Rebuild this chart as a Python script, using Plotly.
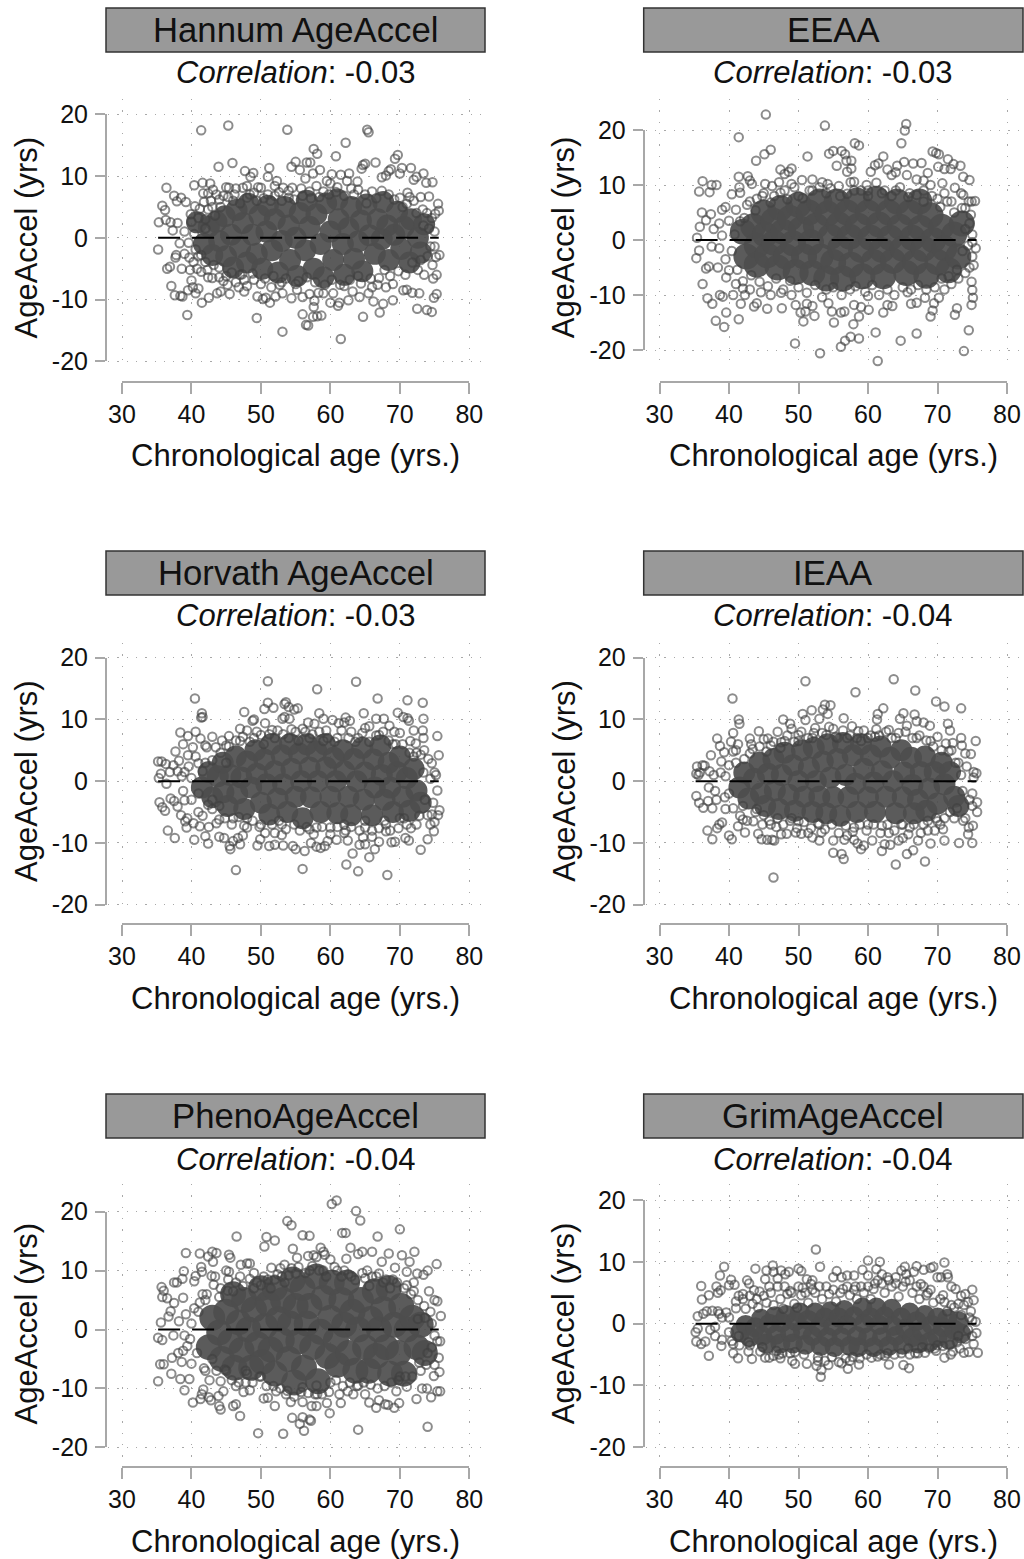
import plotly.graph_objects as go

panel_titles = ["Hannum AgeAccel", "EEAA", "Horvath AgeAccel", "IEAA", "PhenoAgeAccel", "GrimAgeAccel"]
correlations = ["-0.03", "-0.03", "-0.03", "-0.04", "-0.04", "-0.04"]
x_ticks = [30, 40, 50, 60, 70, 80]
y_ticks = [-20, -10, 0, 10, 20]
y_tick_labels = ["-20", "-10", "0", "10", "20"]
zero_x = [35.2, 75.6]
zero_y = [0, 0]

hannum_points = [(35.2,-1.9),(35.3,2.5),(35.8,5.2),(36.2,4.5),(36.3,2.9),(36.4,8.1),(36.5,-5),(36.9,-4.7),(37,2.5),(37.1,-7.8),(37.3,1.2),(37.5,6.8),(37.7,-3.2),(37.8,-2.8),(37.9,5.9),(37.6,-9.3),(38,2.4),(38.3,-0.9),(38.4,-9.4),(38.5,6.5),(38.6,-5),(38.7,-9.5),(39,-2.6),(39.2,5.8),(39.4,-12.5),(39.5,-8.5),(39.7,-3.2),(39.8,-5.2),(39.9,3.8),(40,2.6),(40,-6.9),(40.2,-8),(40.3,-3.9),(40.5,5.1),(40.6,-9),(40.6,-1.9),(40.4,8.5),(41,-8.2),(41.2,4.7),(41.4,17.4),(41.5,-10.5),(41.4,-5.5),(41.6,8.9),(41.7,7.2),(42,1.5),(42,-3.9),(42.4,4.6),(42.3,-5.2),(42.4,7.2),(42.5,-9.7),(42.7,8.8),(43,-6.5),(43.1,7.8),(43.4,3.6),(43.7,-9),(43.9,11.5),(44,-6.4),(44,6.2),(44.2,-8.7),(44.6,6.8),(45,8.2),(45.2,-7.6),(45.3,18.2),(45.4,8.1),(45.5,-9.1),(45.9,12.1),(46.4,-7.2),(46.4,8),(47.3,-5.9),(47.4,8.1),(47.7,10.8),(47.6,-8.7),(48,8.4),(48,-7.8),(48.5,9.9),(48.9,10.5),(49,7.3),(49.5,-9.5),(49.4,-13),(50,8.1),(50.3,-9.9),(50.7,-9.7),(51,9.9),(51.2,11.3),(51.3,-10.5),(51.5,-8),(52,8.4),(52.1,-9.5),(52.3,9.2),(52.7,-7.6),(53.1,-15.2),(53.2,8.1),(53.1,-9),(53.8,17.5),(54.4,11.5),(54.4,-9.8),(54.5,8.1),(55,12.3),(55.2,-8.4),(55.6,11),(56,-9.6),(56,-12.4),(56.4,9.6),(56.6,12.2),(56.5,-14.1),(56.8,-14.2),(57.1,12.2),(57,-9.1),(57.6,14.4),(57.5,-12.8),(57.5,10.4),(57.6,-11.2),(57.7,-10.2),(58.1,13.6),(58.1,-12.7),(58.3,-8.9),(58.5,11),(58.7,-12.6),(59,-9),(59.5,9.2),(60,-10.5),(60.2,10.3),(60.4,-9),(60.8,13.2),(61.1,-11),(61.3,-10.5),(61.5,10.2),(61.5,-16.4),(62.2,15.4),(62.4,9.2),(62.6,-10.1),(62.7,10.4),(63.2,-8.7),(63.9,9.1),(64.2,-9.6),(64.5,11.2),(64.7,-12.8),(64.7,11.8),(65,12),(65.3,17.5),(65.5,17.1),(65.5,-9),(66,-8),(66.2,-10.3),(66.5,12.2),(67.1,-12.1),(67.4,9.8),(67.6,-10.7),(68,10.1),(68.4,10.8),(68.7,11.1),(69,-10.1),(69.3,12.8),(69.7,13.4),(70,10.4),(70.3,11.3),(70.5,-8.5),(71,-8.4),(71.1,7.3),(71.6,11.3),(71.8,-8.9),(72,9.4),(72.4,9.9),(72.5,-11.5),(72.8,-9),(73,6.6),(73.4,10.4),(73.5,-6),(73.8,8.9),(73.9,-11.7),(74.2,6.7),(74.6,-12),(74.7,9),(74.8,-6.6),(74.9,-9.7),(74.7,-4.4),(75.1,3.9),(75.3,-9.1),(75.2,-3.1),(75.3,-6),(75.5,5.5),(75.6,4.4),(75.7,-2.8),(74.2,1.5),(74,-3),(73.3,4.6),(72.6,-5.2),(72,6),(71,5.5),(70,6.5),(69,-7.5),(68,-8),(67,-6.5),(66,7.5),(65,7),(64,-6.2),(63,8),(62,-7.8),(61,8.2),(60,8.8),(59,7.5),(58,8.4),(57,7.5),(56,6.8),(55,-7.5),(54,6.5),(53,-7.2),(52,6.8),(51,7),(50,-7.5),(49,-6.8),(48,6.5),(47,-6),(46,6),(45,-6.2),(44,-4.8),(43,5),(42,3),(41,-3)]
hannum_mid = [(39,1),(39.6,-0.8),(40.4,0.6),(40.8,-5),(41,3.2),(41.4,-2.8),(41.8,5.8),(42.4,-6.4),(42.8,6),(43.2,-4.4),(43.6,7),(44.2,5),(44.6,-7),(45.3,6.6),(45.8,-5.6),(46.2,7),(46.8,-8),(47,5.6),(47.6,-6.8),(48.4,7),(48.8,-5.8),(49.4,6),(49.6,8.2),(50.4,6.4),(50.6,-6.6),(51.4,6),(51.8,-6.2),(52.6,7.4),(53,6),(53.6,-6.6),(54,7.6),(54.8,6.2),(55.4,-7),(55.8,8),(56.6,-6.4),(57.2,6.4),(57.8,-7.2),(58.4,6.6),(59.2,-7.6),(59.8,7),(60.2,-6.8),(60.8,7.4),(61.4,-7.6),(62,6.8),(62.8,-6.8),(63.4,7),(64,7.8),(64.4,-7.4),(65.2,5.6),(65.8,-6.6),(66.6,6.4),(66.8,-7.6),(67.4,7.6),(67.8,-5.2),(68.4,7),(68.6,-6.2),(69.2,6.2),(69.8,-5.4),(70.4,5),(70.8,-6),(71.4,6.6),(71.8,-4),(72.4,4),(73,-3.6),(73.4,2),(73.9,4),(74.4,-1.4),(74.6,3.2),(75,1),(75,-1.4)]
hannum_core = [(40.8,2.5),(41.8,-1),(42.5,1.8),(43,-2.8),(43.6,2.6),(44,-0.5),(44.8,3.5),(45,-3),(45.7,0.5),(46,-4.8),(46.5,4.5),(47,-1.5),(47.4,2.4),(48,-4),(48.2,5.5),(48.8,0.5),(49.4,-2.6),(49.8,3.6),(50.2,-5),(50.8,1),(51,5.2),(51.6,-2),(52,3),(52.5,-5.6),(53,-0.5),(53.5,5),(54,2),(54.2,-3.6),(55,0),(55.2,-6.2),(55.6,4),(56.4,-2),(56.6,6),(57,1.8),(57.6,-5),(58,3.8),(58.6,-1),(59,-6.4),(59.4,5.6),(60,1),(60.4,-3.6),(61,6.2),(61.2,3),(61.8,-1),(62,-6),(62.6,1.6),(63,5),(63.4,-3.4),(64,-0.6),(64.4,2.8),(64.6,-5.4),(65.2,5.4),(65.6,0.4),(66.4,-2.6),(66.8,3),(67.4,-0.2),(67.6,5.8),(68.2,2),(68.4,-3.6),(69.2,0.5),(69.6,4.2),(70.2,-1.8),(70.6,1.8),(71.4,-4),(71.6,3),(72.6,0),(73,-2.4),(73.5,2.2)]

eeaa_points = [(45.3,22.8),(53.8,20.8),(65.5,21.1),(65.3,19.9),(41.4,18.7),(64.8,17.6),(58.1,17.6),(58.7,17.2),(46,16.4),(45.1,15.6),(43.9,14.4),(51.3,15.2),(54.4,15.7),(55,16.2),(56.2,16.2),(56.7,15.6),(56.9,14.4),(57.6,14.4),(55.5,13.5),(57.6,13),(57,12.4),(62.2,15.2),(61,13.6),(61.5,13.9),(65.2,14.2),(66.5,13.9),(67.7,14),(69.3,16.1),(69.8,15.8),(70.2,15.6),(71.5,14.7),(72.3,13.8),(73.3,13.5),(70.1,13.3),(71,12.9),(71.9,12.9),(73.7,11.5),(74.6,10.9),(70.7,10.3),(68.6,12.2),(36.2,10.7),(35.7,8.8),(37.2,8.7),(37.5,10),(38.2,10),(36.1,5),(37.4,4.7),(36.7,3.6),(35.8,2.4),(35.4,0.4),(35.3,-3.3),(35.7,-1.9),(36.7,-5.2),(37.1,-4.8),(36.2,-8),(36.9,-10.6),(37.6,-11.6),(38.1,-14.7),(39.3,-15.8),(39.6,-13.2),(41.4,-14.4),(41.7,-11.6),(38.7,-10),(39.1,-10.3),(40.6,-10),(42.3,-10),(44,-11.5),(43.6,-12.1),(45.5,-12.5),(47.6,-12.4),(49.6,-11.8),(49.5,-18.8),(50.7,-14.8),(50.3,-13.2),(51.2,-11.6),(52.3,-13.8),(53.1,-20.6),(55.1,-15),(56.1,-19.4),(56.7,-18.3),(57.5,-17.6),(58.7,-17.9),(57.9,-15.3),(58.7,-13.9),(60.1,-12.7),(61.1,-16.8),(61.4,-22),(64.7,-18.3),(67,-17),(69,-13.9),(72.5,-13.6),(72.8,-12.4),(74.5,-16.4),(73.8,-20.2),(74.9,-11.8),(75.1,-10.5),(74.9,-7.6),(75,-9.1),(75.5,-1.5),(75.4,7.1),(74.9,7),(41.4,11.5),(41.5,9.6),(41.6,8.6),(40.4,8.3),(42.7,11.6),(43,10.8),(43.3,10.2),(45.2,10.2),(46.2,9.8),(47.2,10.5),(47.4,12.8),(48,12),(48.6,12.4),(49,13),(49,10.2),(50.5,10.9),(52,11),(53.4,10.5),(54.2,10.2),(57.5,10.5),(59.8,10),(60.4,12.4),(62.8,12.8),(63.4,11.8),(64,12.3),(64.2,13.5),(65.6,11.8),(67,11),(68,10.8),(69,10),(71,8.5),(72.5,9.5),(73.4,8.5),(73.7,8.2),(74.5,7),(73.5,5.8),(74,5.8),(74.6,3),(75,1),(75,-3),(74.6,-5),(74,-6),(72,-8),(71,-9),(70.2,-10.5),(69.5,-11.5),(69.3,-12.8),(68.2,-10.5),(67,-11.4),(66.2,-11.6),(65.7,-9.5),(63.5,-12),(62.8,-11.8),(62.2,-13.2),(60,-10.2),(59,-12.2),(58,-11.8),(56.6,-13),(56.1,-13.2),(54.8,-13),(54.3,-11.5),(52,-12),(51,-13),(49,-10),(47.5,-9.6),(46,-10),(44.6,-9.5),(43,-9),(42,-7.5),(41,-8),(40,-5.5),(39.5,-3.5),(38.6,-1.5),(37.5,-1.2),(37.8,2),(38.6,3),(39,5.5),(39.5,6),(40,3.5),(41,5.5),(42.2,4),(43,7),(44,7.5),(45,8.5),(46.5,8),(48,9),(50,8),(52,9),(54,8.5),(56,8),(58,9),(60,9),(62,8.5),(64,9),(66,8.5),(68,9),(70,7.5),(72,7)]
eeaa_mid = [(38.4,-5),(39,0.8),(39.6,-6.8),(40.4,-2),(40.8,1),(41.2,-5.4),(41.6,3.4),(42,-8.8),(42.6,6.4),(43.2,-6.4),(43.8,5.4),(44.4,-7.6),(44.8,8),(45.6,-8.4),(46,6.8),(46.8,-7),(47.4,8.6),(47.8,-9),(48.4,7.4),(48.8,-7.4),(49.4,9.6),(50,-8.6),(50.6,7.6),(51.2,-9.6),(51.6,9),(52.4,-8.2),(53,9.6),(53.4,-10.4),(54,-9),(54.6,9.4),(55,-8.6),(55.8,9.8),(56.2,-10),(57,8.4),(57.4,-9),(58,10.6),(58.2,-8.4),(59,9),(59.6,-9.4),(60,8),(60.6,-8.2),(61.2,10.4),(61.6,-10),(62.4,9),(62.8,-9),(63.4,8),(63.8,-10),(64.6,9.6),(65,-8.6),(65.8,7.8),(66.2,-9),(67,8.2),(67.2,-8.2),(68,7),(68.4,-9),(69.2,8),(69.6,-8.6),(70.4,6),(70.6,-7),(71.4,7),(71.6,-6.6),(72.4,5),(72.8,-5.4),(73,-7),(73.6,-2),(74,2),(74.4,-1),(74.8,4.6),(75.2,-4.6),(75,-0.4)]
eeaa_core = [(42,1.5),(42.5,-3),(43.5,2.5),(44,-1),(44,-4.5),(45,5),(45.2,1),(45.5,-2.8),(46.4,3.5),(46.5,-0.5),(47,-5),(47.4,5.8),(47.8,1.5),(48.2,-3),(48.8,4),(49.2,-0.6),(49.6,-5.8),(50,6.4),(50.4,2),(50.8,-3),(51.5,5),(51.8,-0.4),(52,-6),(52.5,2.6),(53,7),(53.2,-3),(54,-7),(54.2,4.8),(54.6,0.6),(55,-4),(55.5,7),(55.8,2.8),(56,-1.5),(56.4,-7),(57,5),(57.4,0.6),(57.6,-4.5),(58.4,7.2),(58.6,2.6),(59,-1.8),(59.2,-6.6),(60,5),(60.4,0.4),(60.8,-4),(61.2,7.5),(61.6,2.8),(62,-1.8),(62.2,-6.6),(63,5),(63.2,0.4),(63.6,-3.8),(64.2,7),(64.6,2.4),(65,-1.6),(65.5,-6),(66,5),(66.4,0.4),(66.8,-4),(67.4,7),(67.6,2.2),(68,-1.6),(68.4,-6.5),(69,4.5),(69.4,0),(70,-4),(70.6,2.4),(71,-1.5),(71.6,-5.5),(72.4,1),(73,-3),(73.5,3)]

horvath_points = [(35.2,3.2),(35.7,3.2),(35.3,0.5),(35.6,1.2),(35.4,-3.4),(35.8,-4.2),(36.2,-4.8),(36.3,2.8),(36.4,-0.4),(36.6,-8),(36.9,1.5),(37,-2.8),(37.4,2.6),(37.5,-3.2),(37.7,4.8),(37.6,-9.2),(38,-4.1),(38.2,3.3),(38.4,7.9),(38.5,-5.5),(38.6,0.8),(38.8,6),(39,-3.1),(39.1,-6.5),(39.4,-6),(39.5,7.3),(39.3,-7.5),(39.5,4.2),(40.2,5.5),(40.3,-6.8),(40.4,-9.5),(40.5,13.4),(40.6,8),(41,2.9),(41.2,-7.3),(41.3,6.9),(41.4,10.3),(41.5,11),(41.6,10.4),(41.6,-5.6),(42,-8.9),(42.2,5.5),(42.4,-10.1),(42.5,-7.4),(43,7.2),(43,-4.5),(43.5,5.5),(44,-6.2),(44,-9),(44.4,6.6),(44.7,-9.2),(45,3),(45.4,7.3),(45.5,-10.5),(45.6,-11),(46,-9.7),(46.4,-14.4),(46.7,-9.2),(47,-10.2),(47,8.5),(47.4,-8.8),(47.6,11.2),(48,8.2),(48,-7.5),(48.8,9.8),(49,10),(49.5,-10.4),(49.9,-9.4),(50.5,11.7),(50.6,9.4),(51,16.2),(51,12.7),(51.2,-10.5),(51.6,8.3),(51.8,11.9),(52,-10.3),(52,-8.4),(53,-8.7),(53.1,10.1),(53.2,-10.4),(53.4,10.4),(53.4,12.5),(53.6,12.8),(54,12),(54.1,10.1),(54.6,-10.5),(54.8,11.6),(55,-11),(55.3,11.8),(56,8.5),(56,-14.2),(56.3,-11.3),(56.8,9.5),(57,-7.8),(57.7,9.3),(57.2,-10),(58,-10.6),(58.1,14.9),(58.4,11),(58.6,-10.8),(59,10.1),(59.2,-10.5),(59.4,8.2),(59.6,-9.7),(60.3,9.9),(60.9,-9.5),(61.2,9.4),(62,9.5),(62.2,10.3),(62.2,-8),(62.3,-13.5),(62.5,-9.6),(62.8,9.8),(63.2,-11.7),(63.7,16.1),(64,-14.6),(64.2,-10.3),(64.7,-9.1),(64.8,11),(65,-10.2),(65,8.6),(65.6,-12.3),(65.6,8.9),(66.4,-11),(66.6,10.1),(66.8,13.4),(67,-9.8),(67.7,10.1),(68,-8.1),(68.2,-15.2),(68.5,9),(68.8,-9.9),(69.2,8),(69.3,-9.8),(69.7,11.1),(70,7.8),(70.5,10.4),(70.8,-9.2),(71.1,13.1),(71.1,10.2),(71.3,9.8),(71.3,-9.6),(71.5,6.5),(72,8.2),(72.3,6.1),(73,-11.1),(73.3,8.2),(73.3,12.7),(73.4,10.1),(73.4,7),(73.5,5),(74,-9.4),(74.1,3.6),(74.4,-7),(74.6,2.9),(74.9,-8.1),(75.2,1),(75.4,-1.5),(75.4,7.3),(75.5,-5.5),(75.6,4.2),(75.7,-4.7),(74.8,-3.5),(74,-5.5),(73,4.3),(72.4,-7),(72,4),(71,-7),(70,-6),(69,6),(68,-7),(67,7.5),(66,-8),(65,-7.5),(64,7),(63,8),(62,-7),(61,7),(60,-7.5),(59,6.5),(58,-7.5),(57,7),(55,8),(54,7),(53,-7),(52,7),(50,7.5),(50,-7),(49,7),(48,-6),(47,6.5),(46,-6),(45,5.8),(44,-4),(43,-3),(42,3),(41,-2),(40,0.5),(39,1.5)]
horvath_mid = [(38,1.6),(38.8,-1.6),(39.6,2.4),(40,-3),(40.6,4),(41,-5),(41.6,1.6),(42,5.8),(42.4,-3.8),(43,3.4),(43.6,-6.8),(44.2,4.6),(44.8,-6),(45.4,5.6),(45.8,-7),(46.4,6.6),(46.8,-5.8),(47.4,7.2),(47.6,-7.2),(48.4,6.4),(48.8,-6.4),(49.4,8),(49.8,-7.4),(50.4,6),(50.6,-8.4),(51.2,7.6),(51.6,-7),(52.4,8.2),(52.6,-6.4),(53.2,7.6),(53.6,-7.8),(54.4,8.4),(54.8,-7),(55.4,6.6),(55.6,-8),(56.4,8),(56.6,-7.4),(57.4,7.6),(57.6,-8.6),(58.4,8),(58.8,-7.4),(59.6,7),(60,-8.6),(60.6,6.4),(61,-7.4),(61.6,8.2),(62,-8.4),(62.6,7),(63,-7.4),(63.6,6.4),(64.2,-8),(64.6,7.8),(65,-6.4),(65.6,6.4),(66,-9),(66.6,7.4),(67,-7.6),(67.6,8),(67.8,-6.4),(68.4,6.6),(68.6,-8),(69.4,6),(69.8,-7.6),(70.4,6),(70.6,-6),(71.4,4.6),(71.6,-7.6),(72.4,4.6),(72.8,-5.6),(73.4,1.4),(73.6,-3),(74.4,0.4),(74.6,-5.4),(75,-6.6),(75,1.4)]
horvath_core = [(41.5,-1),(42.5,1.5),(43,-2.6),(43.8,0.8),(44.5,3),(44.6,-1.8),(45.2,-4),(45.6,1),(46.4,4),(46.6,-2),(47.2,0.6),(47.6,-4.5),(48,3.2),(48.6,-1),(49.2,5),(49.4,1.2),(50,-3.5),(50.5,3.5),(50.8,-0.5),(51.2,-5.4),(51.5,6),(52,1.6),(52.4,-2.8),(53,4.2),(53.2,-0.5),(53.8,-5),(54.2,6),(54.4,2),(55,-2.5),(55.5,4.5),(55.8,0),(56,-6),(56.6,6),(57,2.2),(57.2,-2.6),(58,4.8),(58.2,0),(58.6,-5),(59.2,6),(59.4,2.2),(60,-2.5),(60.5,3.8),(60.8,0),(61,-5.2),(61.8,5),(62,1.6),(62.6,-2.5),(63,-5.5),(63.4,3.6),(63.8,0),(64.6,5.4),(64.8,-3),(65,1.4),(66,-5.5),(66.2,3.5),(66.4,-1),(67.2,5.8),(67.4,1),(67.8,-3),(68.4,3),(68.6,-1),(69,-5),(69.6,1.5),(70,4),(70.4,-2.5),(71,0.5),(71.4,-4.8),(72,2),(72.4,-1.5),(73,-3.5)]

ieaa_points = [(35.4,2.4),(35.3,1.2),(35.6,1),(35.8,1.4),(35.3,-2.4),(35.7,-3.5),(36.3,-4.3),(36.2,2.6),(36.5,2.5),(36.9,-8),(37,-3.2),(37.4,4.2),(37.2,1.6),(37.1,-1),(37.6,-9.4),(37.8,1),(37.6,-4.4),(38.2,-3),(38.3,6.9),(38.3,-7.6),(38.7,5.7),(38.6,-7),(38.9,3.2),(39,-6.7),(39.3,4.7),(39.5,-4.5),(40,-8.8),(40.4,-9.4),(40.3,6.4),(40.5,13.4),(40.6,7.8),(40.6,4.8),(41.4,10),(41.5,9.3),(41.3,6),(41.3,-7.3),(42,-6.2),(42.3,-8.3),(43,6.9),(43.2,6),(43.5,-6.5),(44.2,-8.5),(44.3,8.1),(44.7,-9.4),(45,6.8),(45.5,-9.5),(45.6,6.9),(46,-7),(46.2,-9.5),(46.4,-15.6),(46.5,-9.6),(47,8),(47.5,6.3),(47.5,-8.6),(47.8,10),(48.3,-8.5),(48.8,9.3),(49,8.5),(49.6,-8.3),(50,7.5),(50.4,-8.5),(50.6,10.9),(51,16.2),(51,9.9),(51.4,-8.4),(51.9,11.5),(52,-9.1),(52.2,7.8),(53,10.1),(53,-9.6),(53.3,-8.3),(53.5,11.6),(53.8,12.4),(54.2,10.9),(54.6,12.3),(55,-9.6),(55,-11.6),(55.6,7),(56.2,-11.8),(56.5,-12.6),(56.5,10.2),(56.6,-9.5),(57,-8.8),(57.7,8.9),(58,-9.5),(58.2,14.4),(58.5,-10.1),(58.6,8.1),(59,-11),(59.4,-10.4),(60,7),(60.6,-9.6),(61.2,8.4),(61.3,10),(61.4,10.9),(62,-11.3),(62.2,11.8),(62.4,-10.2),(63,-8.4),(63.2,-10.3),(63.7,16.5),(64,-13.5),(64.4,-9.6),(64.6,10.1),(65,-9.2),(65.1,11),(65.6,-11.8),(65.6,9),(66.5,-11.2),(66.7,10.8),(66.8,14.7),(67,9.7),(67.2,-9.6),(68,9.5),(68.2,-13),(68.6,-8),(68.9,9),(69,-10.1),(69.6,-8),(70,7.2),(69.8,12.9),(70.4,-7),(71,12.1),(71,-9.6),(71.2,6.1),(71.5,9.3),(71.8,8.2),(72.2,6.2),(73.1,-10),(73.4,7),(73.4,11.8),(73.5,5.8),(73.7,-6.4),(74,4.5),(74.5,-7.5),(74.4,-8.6),(74.8,4.4),(75,-10),(75.1,-7.2),(75.2,1.5),(75.5,6.5),(75.6,1.3),(75.7,-3.4),(75.7,-5),(75,-2),(74,-6),(73,3),(72.4,-6),(72,5),(71,-6),(70,-6.5),(69,6.5),(68,-7),(67,7),(66,-7.5),(65,-7),(64,7),(63,8.3),(62,-7.2),(61,7.2),(60,-7),(59,6.5),(58,-7.5),(57,7),(55,8.5),(54,7.5),(53,-7),(52,7),(50,6.5),(50,-6.5),(49,-6),(48,6.5),(47,-6),(46,5.8),(45,-5.5),(44,-4.5),(43,4.5),(42,-4),(41,3),(40,-2),(39.5,0.8)]
ieaa_mid = [(38,-1.6),(38.8,1.4),(39.4,-2.6),(40,2.6),(40.6,-4.4),(41,5),(41.6,-5.6),(42.2,3.6),(42.6,-6.4),(43.4,5.2),(43.8,-5),(44.4,5.6),(44.8,-7),(45.4,4.8),(45.8,-6.4),(46.4,6.4),(46.8,-7.4),(47.4,5.4),(47.8,-7),(48.4,7.4),(48.8,-6.4),(49.4,6.4),(49.8,-7.6),(50.4,8),(50.8,-6.6),(51.4,7),(51.8,-7.6),(52.4,8.6),(52.8,-6.8),(53.4,7.8),(53.8,-7.8),(54.4,8.8),(54.8,-7),(55.4,7.2),(55.8,-8.4),(56.4,8.2),(56.8,-7.2),(57.4,7.4),(57.8,-8.2),(58.4,7),(58.8,-7),(59.4,8.2),(59.8,-8),(60.4,7.4),(60.8,-7),(61.6,7.4),(61.8,-8.4),(62.6,8),(62.8,-7),(63.4,7),(63.8,-8),(64.4,7.8),(64.8,-7),(65.4,8),(65.8,-8.6),(66.4,7),(66.6,-7),(67.4,7.4),(67.6,-8.4),(68.4,6.6),(68.6,-6.4),(69.4,5.6),(69.8,-6),(70.6,5),(70.8,-7.8),(71.6,4.8),(71.8,-5),(72.6,3),(72.8,-4.4),(73.4,1),(73.6,-1.6),(74.2,2.4),(74.6,-3),(75,-4),(75.2,0.6)]
ieaa_core = [(41.5,-1),(42.2,1.4),(42.8,-2.8),(43.6,0.4),(44.4,3),(44.6,-2),(45.2,-4),(45.6,1.2),(46.4,3.6),(46.6,-1.5),(47.2,-4.5),(47.6,1),(48,4.6),(48.6,-2.2),(49.2,2.6),(49.5,-4.8),(50,0),(50.5,5),(50.8,-2.5),(51.5,2.2),(52,-5),(52.2,5.4),(52.5,0),(53,-2.5),(53.5,3.2),(54,-5.2),(54.2,6),(54.6,0.6),(55,-2.6),(55.6,3.6),(56,-5.6),(56.4,6.2),(56.8,1),(57.2,-2.6),(57.8,4.2),(58.2,-0.4),(58.4,-5),(59,6),(59.4,2),(60,-2.6),(60.4,4.2),(60.8,-0.2),(61,-5),(61.8,5.6),(62,1.6),(62.6,-2.5),(63.2,3.8),(63.6,0),(64,-5.2),(64.8,5),(65,-2.6),(65.2,1.4),(66.2,3.8),(66.4,-0.6),(66.6,-5.2),(67.2,-3),(67.6,1.5),(68.2,4),(68.4,-4.8),(68.8,-1.2),(69.6,1.5),(70,-3.6),(70.6,3),(71,-0.5),(71.8,1.5),(72.4,-2.5),(73,-4)]

pheno_points = [(35.2,-1.4),(35.6,1.2),(35.2,-8.8),(35.5,-5.9),(35.7,7.2),(35.8,5.5),(35.8,-1.8),(36,-5.9),(36,6.6),(36.5,5.3),(36.7,2.2),(37.1,-7.5),(37,3.1),(37.2,-4.8),(37.4,-1),(37.5,4.5),(37.5,8),(37.9,8),(38.1,-4),(38.4,-8.4),(38.6,-5.5),(38.7,8.6),(38.8,5.4),(38.9,9.9),(39,-10.3),(39.2,13),(39.4,-2.8),(39.7,-8.4),(40,-5.8),(40.2,-12.4),(40.4,8.2),(40.6,9.1),(41.2,12.9),(41.3,-11.8),(41.4,10.6),(41.5,9.8),(41.5,-11),(41.7,-10.2),(41.6,6),(42,-7),(42.4,12.4),(42.5,-11.5),(42.8,-12),(42.9,9.1),(43,13.2),(43.1,11.5),(43.4,9),(43.6,13),(43.9,-11.3),(44,-13),(44.2,-13.6),(44.2,-8.8),(44.6,-10.5),(45,10),(45.4,9.8),(45.3,8.5),(45.4,12.7),(45.6,12.2),(46,-13),(46.4,-12.7),(46.4,-9.6),(46.5,15.8),(47,-14.7),(47.1,11),(47.5,-10.6),(47.8,-9),(48,11.2),(48.4,11.2),(48.4,-10.3),(49,9.6),(49.6,-17.6),(50,-8),(50.4,-11.7),(50.5,14.1),(50.8,15.7),(51,-11.6),(51.5,10.5),(52,-13),(52,15.1),(52.2,-10.5),(52.8,10.4),(53.2,-17.7),(53.4,11),(53.6,-11),(53.8,18.4),(54.3,-12.3),(54.4,17.7),(54.5,-15),(54.6,13.7),(55.2,12.2),(55.6,-16),(56,-12.3),(56,-14.9),(56,16),(56.2,-17.2),(56.8,12.5),(57,15.9),(57,-15.3),(57.2,-15.5),(57.3,-13),(58,-13),(57.6,12.6),(58,12.3),(58.1,-11),(58.6,13.9),(59,13.2),(59.2,12.7),(59.5,-12.5),(59.9,-14.2),(60.2,21.3),(60,11.9),(60.9,21.9),(61.3,-11),(61.5,-12.5),(61.7,16.4),(62.2,16.4),(62.3,12),(62.5,-10.5),(62.9,13.9),(63.3,-11),(63.7,20.1),(64,-17),(64,12.8),(64.3,18.5),(64.6,13.2),(65,-11),(65.3,10),(65.6,-12.4),(66,13.2),(66.6,-13.3),(66.8,15.8),(67,-12),(67.4,11.5),(67.9,-12.7),(68.3,-12.8),(68.4,12.9),(69.2,-13.3),(69.3,10.5),(69.5,-10.5),(69.9,-12.5),(70,17),(70.3,12.6),(71,9.8),(71,-9.7),(71.4,11.5),(72,6.5),(72.1,13.2),(72.4,-11.8),(72.5,9.5),(73.2,-10),(73.4,9.3),(73.9,-10),(74,-16.5),(74,10),(74.2,6.5),(74.5,-11.5),(74.9,-7.9),(75,5),(75.4,4.8),(75.3,11.1),(75.4,-10.5),(75.6,-4.8),(75.7,-7.2),(75.8,-10.5),(75.9,2.3),(75.8,-2),(75.4,-2),(74.6,1),(74,-4),(73.5,4),(73,-7),(72.6,1.8),(72,8),(71,7.5),(70,-8),(69,8.5),(68,8.5),(67,9.5),(66,9),(65,8.7),(64,-9.5),(63,9),(62,10),(61,10),(60,-9),(59,10),(58,-9.5),(57,10),(56,-9.8),(55,9.5),(54,9.2),(53,9),(52,8.5),(51,8.5),(50,7.5),(49,7),(48,-7.5),(47,9),(46,6.5),(45,-7),(44,5.5),(43,-5),(42,5),(41,3),(40,1),(39,-1)]
pheno_mid = [(38.2,1.4),(38.8,-3.6),(39.2,2.6),(39.8,-1.6),(40.4,3.6),(40.8,-4),(41.2,4.6),(41.8,-6.6),(42.2,6),(42.6,-8.6),(43.2,7.6),(43.6,-7),(44.2,7),(44.8,-6.8),(45.2,6.6),(45.8,-8.6),(46.4,8),(46.8,-9),(47.4,7.4),(47.8,-7),(48.4,8.6),(48.8,-9),(49.4,8),(49.8,-8),(50.4,9),(50.8,-9.6),(51.4,7),(51.8,-9.6),(52.4,9.4),(52.8,-10),(53.4,8),(53.8,-10.4),(54.4,10.4),(54.8,-11.4),(55.4,10.6),(55.8,-10.6),(56.4,9.6),(56.8,-10.8),(57.4,10.8),(57.8,-11),(58.4,10),(58.8,-11),(59.4,9),(59.8,-10.6),(60.6,10.6),(60.8,-8.6),(61.6,9),(61.8,-9.6),(62.6,9.4),(62.8,-9),(63.6,8.4),(63.8,-9.6),(64.6,9.6),(64.8,-9),(65.6,7.4),(65.8,-9.4),(66.6,9),(66.8,-10),(67.6,8),(67.8,-9.6),(68.6,7),(68.8,-9),(69.6,8),(69.8,-8.6),(70.6,7),(70.8,-8),(71.6,6),(71.8,-8),(72.6,5),(72.8,-5.6),(73.6,2),(73.8,-6),(74.4,3),(74.6,-3),(75,-1),(75,-6)]
pheno_core = [(42.5,-3),(43,2),(44,-0.5),(44.4,-5),(45,3),(45.6,-2),(46,6),(46.2,-6.5),(46.8,1.2),(47.2,-3.5),(47.6,5),(48.2,0),(48.6,-6.5),(49,3.4),(49.5,-2.5),(50,7),(50.2,-5.5),(50.6,0.6),(51,4.4),(51.4,-3.4),(52,7),(52,-7.5),(52.5,1.8),(53,-1.8),(53.2,5),(54,-5),(54.2,1),(54.6,8.5),(54.8,-9),(55,4),(55.4,-2),(56,7),(56.2,-6.5),(56.6,1),(57,4),(57.4,-3),(58,9),(58.2,-8.8),(58.6,-0.4),(59,5.4),(59.6,-4.5),(60,2),(60.2,8),(60.8,-1.8),(61,-6),(61.6,5),(62,0.8),(62.4,8),(62.6,-4),(63.2,3),(63.6,-7),(64,0),(64.4,5),(65,-3),(65.5,-7),(65.8,1.8),(66.4,6.5),(66.6,-4.5),(67,0),(67.6,3.5),(68,-3),(68.4,7),(68.6,-7.5),(69.2,0.8),(69.8,-4),(70.2,4),(70.6,-7.5),(71,0),(71.8,2),(72.4,-3),(73,0.8),(73.6,-4)]

grim_points = [(35.2,-1.4),(35.5,-0.8),(35.3,-2.9),(35.5,1.2),(36,6.1),(36,-3.3),(36.1,3.9),(36.3,1.6),(36.6,-2.9),(36.8,2),(37.1,-5.2),(37.1,4.6),(37.3,-1),(37.6,2.1),(38,-2),(38.2,6),(38.4,5),(38.4,2),(38.7,7.8),(38.8,5.4),(38.9,-3.6),(39.3,9.2),(40,6.2),(40.3,7.1),(40.6,-3.3),(40.6,-4.8),(40.8,6.3),(41.3,-5.6),(41.4,4.5),(42.6,7),(42.9,6.5),(42.8,-4.5),(43.3,-5.7),(43.8,8.9),(44.4,5.2),(45.2,7.2),(45.2,-5.5),(45.4,8.6),(45.8,-5.5),(46.3,9.4),(46.4,8.4),(46.4,-5.2),(47,7.3),(47.2,-5),(47.5,8.6),(47.4,-5.6),(47.7,-4.8),(48.1,8),(48.6,8.4),(48.8,5.3),(49.1,-6),(49.5,-6.5),(49.5,-4.6),(50,8.9),(50.4,8.5),(50.6,5.8),(51.2,7.2),(51.2,-6.5),(52,7),(52.5,12),(52.6,-6.8),(52.8,-5.4),(53.1,9.2),(53.2,-8.6),(53.3,-7.5),(54.3,-6.7),(55,7.5),(55.5,8.5),(56.2,7.5),(56.2,-6.4),(57,7.8),(57.1,-7.3),(57.4,-6),(58,7.8),(58.2,6),(58.7,-6.6),(59.2,8.7),(60,10.2),(60,7.8),(60.5,-5.5),(61.2,8.8),(61.4,-5.3),(61.7,10),(62,8),(62.4,-5.2),(62.8,7.5),(63,-6.6),(64,6.5),(64.8,8.6),(65.1,-6.7),(65.3,9.2),(65.5,8),(65.9,-7.2),(66,-5),(66.6,8.4),(67,9.3),(67.2,-4.8),(67.6,6.4),(68,8.7),(68.2,-4.7),(68.6,5),(69,9),(69.4,9.2),(69.6,-4),(70,7.5),(70.5,7.5),(70.8,4.6),(71,-5.5),(71,9.9),(71.4,8),(71.5,7.5),(71.9,-5),(72,6),(72.2,-4.5),(72.6,5.6),(73,3.2),(73.2,-4),(73.4,4.5),(73.8,-4.7),(74,4.8),(74.4,3.5),(74.5,-4.6),(74.8,2),(75,5.5),(75.2,3.8),(75.2,-3.3),(75.5,0.3),(75.8,-4.7),(75.6,-1.5),(75,0.5),(74,-2.5),(73,-2),(72,3),(71,3.5),(70,-3.5),(69,5.5),(68,6),(67,6),(66,7),(65,6),(64,7.5),(63,7),(62,6.5),(61,6.5),(60,6),(59,6),(58,5.5),(57,6),(56,5),(55,5.5),(54,6),(53,6),(52,5.5),(51,5),(50,6),(49,5),(48,6),(47,6),(46,5),(45,4.5),(44,4),(43,4.5),(42,4),(41,2.5),(40,1),(39,1),(38,-0.5),(41.5,-3.5),(43,-3.5),(44.5,-4.5)]
grim_mid = [(38.6,1.6),(39,-2.6),(39.6,1.8),(40,-1.4),(40.4,-2.8),(41,3.6),(41.4,-2),(42,4.8),(42.4,2.4),(42.8,-3),(43.4,3.2),(43.6,5.4),(44.2,2.6),(44.8,-3.8),(45.4,3.4),(45.8,6),(46.4,3),(46.8,-4.4),(47.4,4),(47.8,2.4),(48.4,4.8),(48.8,-4.8),(49.4,3.2),(49.8,2.6),(50.4,4.6),(50.8,-5),(51.4,3.4),(51.8,6.4),(52.4,5),(52.8,-6),(53.4,4),(53.8,-6),(54.4,4.8),(54.8,-5.4),(55.4,3.6),(55.8,-6.2),(56.4,5.6),(56.8,-5.6),(57.4,4.6),(57.8,-5.4),(58.4,4),(58.8,-5.6),(59.4,5),(59.8,-5),(60.4,4),(60.8,5.6),(61.4,7),(61.8,-5),(62.4,5),(62.8,-4.8),(63.4,6),(63.8,-5),(64.4,4.4),(64.8,-4.8),(65.4,6.8),(65.8,-4),(66.4,5),(66.8,-4.8),(67.4,4),(67.8,-3.8),(68.4,4.6),(68.8,-4),(69.4,3.4),(69.8,-4.4),(70.4,4),(70.8,-3.6),(71.4,2),(71.8,-3.4),(72.4,2.6),(72.8,-3),(73.4,1.4),(73.8,3),(74.4,-1),(74.6,1),(75,-2)]
grim_core = [(41.6,-1.4),(42.4,-0.2),(43,-2.2),(43.8,-0.6),(44.6,0.8),(44.8,-2),(45.4,-3.2),(45.8,0),(46.6,1.2),(46.8,-1.8),(47.4,-3.2),(47.6,0.2),(48.2,1.4),(48.8,-1.4),(49.2,-3.2),(49.6,0.4),(50.2,1.8),(50.6,-1),(51,-3.4),(51.4,0.6),(52,-2),(52.4,1.8),(53,-0.6),(53.2,-3.6),(53.8,1),(54.2,-2.2),(54.6,2),(55,-0.4),(55.2,-3.8),(55.8,1),(56.2,-2.2),(56.6,2.2),(57,-0.2),(57.4,-3.6),(58,1.2),(58.4,-2),(58.6,-3.8),(59.2,2.6),(59.4,0),(60,-2.2),(60.4,1),(60.8,-3.8),(61.2,2.6),(61.6,-0.2),(62,-2.2),(62.4,1.2),(63,-3.6),(63.4,2.4),(63.6,-0.4),(64,-2),(64.8,1),(65,-3.4),(65.4,-0.8),(66,1.8),(66.4,-2.2),(67,0.4),(67.2,-3.2),(67.8,-1.2),(68.2,1.4),(68.8,-3),(69.2,-0.2),(70,1),(70,-2.2),(70.8,-0.6),(71.4,0.8),(71.6,-2.6),(72.4,-1),(73.4,-1.6),(73,0.4)]

point_sets = [hannum_points, eeaa_points, horvath_points, ieaa_points, pheno_points, grim_points]
mid_sets = [hannum_mid, eeaa_mid, horvath_mid, ieaa_mid, pheno_mid, grim_mid]
core_sets = [hannum_core, eeaa_core, horvath_core, ieaa_core, pheno_core, grim_core]

W, H = 1024, 1559
COLS = [(106, 485, 122, 469.3), (643.7, 1023, 659.5, 1007)]
ROWS = [
    dict(s0=8, s1=52, sub=73, top=99, bot=370, line=381.7, xt=455),
    dict(s0=551, s1=595, sub=616, top=643, bot=913, line=924, xt=998),
    dict(s0=1094, s1=1138, sub=1159, top=1184, bot=1457, line=1467, xt=1541),
]
Y_PX = [(114.3, 361.3), (130, 350), (657.7, 904.7), (657.7, 904.7), (1211.7, 1447.3), (1200, 1447.3)]
CORE_SIZE = [11, 13, 11, 11, 13, 10]
FONT = "Liberation Sans"
INK = "#111111"
AXIS = "#a8a8a8"

fig = go.Figure()
layout = dict(
    width=W, height=H, margin=dict(l=0, r=0, t=0, b=0, pad=0, autoexpand=False),
    paper_bgcolor="white", plot_bgcolor="rgba(0,0,0,0)", showlegend=False,
    font=dict(family=FONT, color=INK),
)
shapes, annots = [], []

for i, name in enumerate(panel_titles):
    row, col = ROWS[i // 2], COLS[i % 2]
    left, right, x30, x80 = col
    y20, ym20 = Y_PX[i]
    gx, gy = f"x{i+1}", f"y{i+1}"
    dx, dy = f"x{i+7}", f"y{i+7}"
    ux, uy = (x80 - x30) / 50, (ym20 - y20) / 40
    grid_left = left + 2
    xr = [30 + (grid_left - x30) / ux, 30 + (right - x30) / ux]
    yr = [20 - (row["bot"] - y20) / uy, 20 - (row["top"] - y20) / uy]
    layout[f"xaxis{i+1}"] = dict(domain=[grid_left / W, right / W], range=xr, anchor=gy, tickvals=x_ticks,
        showgrid=True, gridcolor="#a8a8a8", gridwidth=1.3, griddash="1.3px,10px", showticklabels=False,
        ticks="", zeroline=False, showline=False)
    layout[f"yaxis{i+1}"] = dict(domain=[1 - row["bot"] / H, 1 - row["top"] / H], range=yr, anchor=gx, tickvals=y_ticks,
        showgrid=True, gridcolor="#a8a8a8", gridwidth=1.3, griddash="1.3px,8px", showticklabels=False,
        ticks="", zeroline=False, showline=False)
    layout[f"xaxis{i+7}"] = dict(domain=[x30 / W, x80 / W], range=[30, 80], anchor="free", position=1 - row["line"] / H,
        tickvals=x_ticks, showgrid=False, zeroline=False, showline=True, linecolor=AXIS, linewidth=2,
        ticks="outside", ticklen=11, tickwidth=2, tickcolor=AXIS, tickfont=dict(size=25, family=FONT, color=INK),
        ticklabelstandoff=-1)
    layout[f"yaxis{i+7}"] = dict(domain=[1 - ym20 / H, 1 - y20 / H], range=[-20, 20], anchor="free", position=left / W,
        tickvals=y_ticks, ticktext=y_tick_labels, showgrid=False, zeroline=False, showline=True, linecolor=AXIS, linewidth=2,
        ticks="outside", ticklen=10, tickwidth=2, tickcolor=AXIS, tickfont=dict(size=25, family=FONT, color=INK),
        ticklabelstandoff=2)

    cx, cy = zip(*core_sets[i])
    fig.add_trace(go.Scatter(x=cx, y=cy, mode="markers", xaxis=gx, yaxis=gy, cliponaxis=False, hoverinfo="skip",
        marker=dict(symbol="circle-open", size=CORE_SIZE[i], color="rgba(77,77,77,0.92)", line=dict(width=CORE_SIZE[i]))))
    px = [p[0] for p in point_sets[i]] + [p[0] for p in mid_sets[i]]
    py = [p[1] for p in point_sets[i]] + [p[1] for p in mid_sets[i]]
    fig.add_trace(go.Scatter(x=px, y=py, mode="markers", xaxis=gx, yaxis=gy, cliponaxis=False, hoverinfo="skip",
        marker=dict(symbol="circle-open", size=8.5, color="rgba(64,64,64,0.6)", line=dict(width=2))))
    fig.add_trace(go.Scatter(x=zero_x, y=zero_y, mode="lines", xaxis=dx, yaxis=dy, hoverinfo="skip",
        line=dict(color="#000000", width=2, dash="22px,12px")))

    mid = (left + right) / 2
    shapes.append(dict(type="rect", xref="paper", yref="paper", x0=left / W, x1=right / W,
        y0=1 - row["s1"] / H, y1=1 - row["s0"] / H, fillcolor="#999999", line=dict(color="#333333", width=1.5), layer="below"))
    annots.append(dict(text=name, x=mid / W, y=1 - (row["s0"] + row["s1"] - 1) / 2 / H, font=dict(size=34.7)))
    annots.append(dict(text=f"<i>Correlation</i>: {correlations[i]}", x=mid / W, y=1 - row["sub"] / H, font=dict(size=31)))
    annots.append(dict(text="Chronological age (yrs.)", x=(x30 + x80) / 2 / W, y=1 - row["xt"] / H, font=dict(size=31)))
    annots.append(dict(text="AgeAccel (yrs)", x=(left - 80) / W, y=1 - ((row["top"] + row["bot"]) / 2 + 3) / H,
        textangle=-90, font=dict(size=31)))

for a in annots:
    a.update(xref="paper", yref="paper", showarrow=False, xanchor="center", yanchor="middle")
    a["font"].update(family=FONT, color=INK)
layout["shapes"] = shapes
layout["annotations"] = annots
fig.update_layout(**layout)
fig.write_html("out.html", config={"displayModeBar": False}, post_script="document.body.style.margin='0';")
